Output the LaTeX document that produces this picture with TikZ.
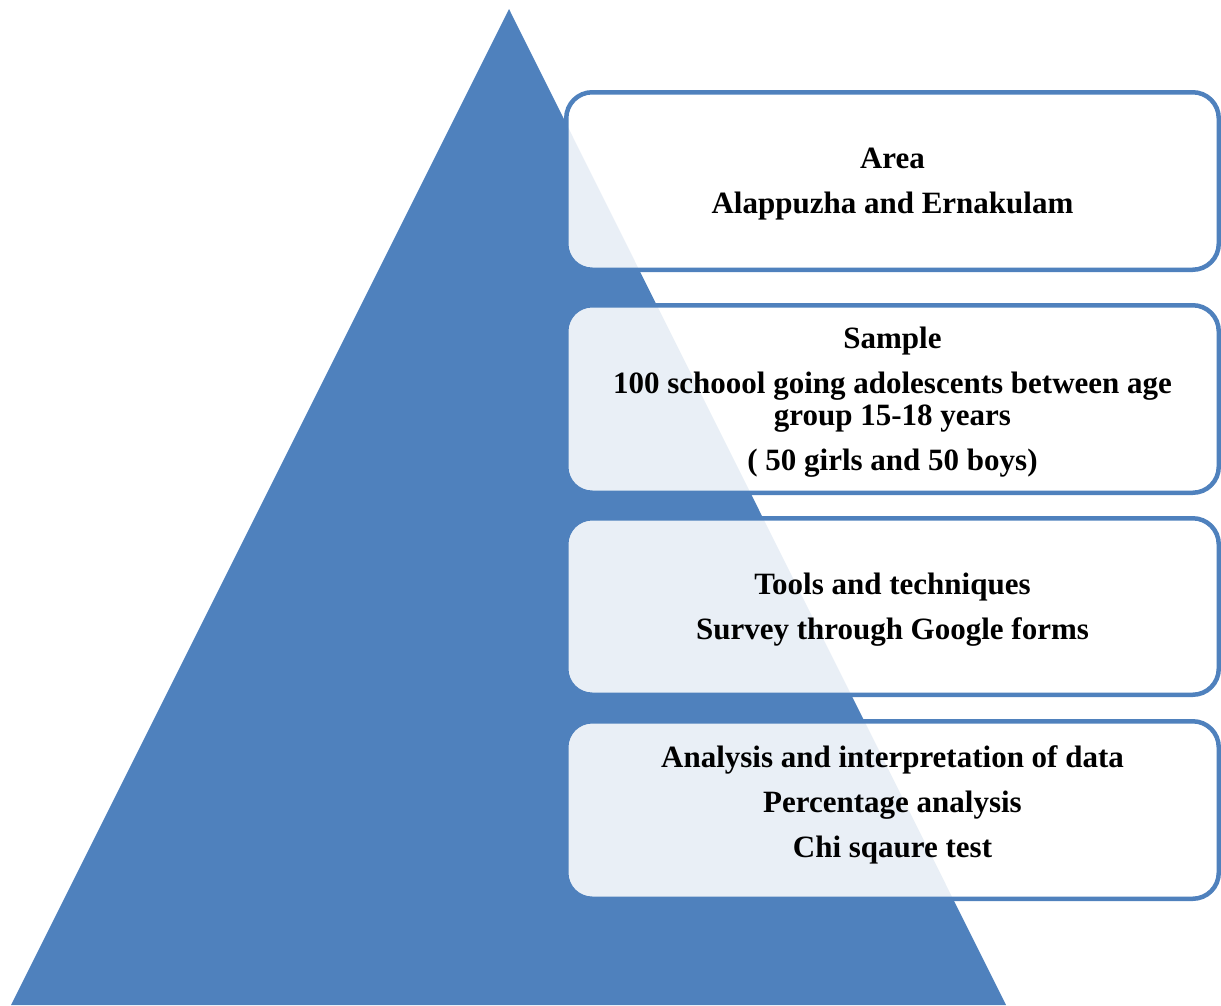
\documentclass[tikz,border=0pt]{standalone}
\usepackage{fontspec}
\setmainfont{Liberation Serif}
\definecolor{pyrblue}{RGB}{79,129,189}
\begin{document}
\begin{tikzpicture}[x=1pt,y=-1pt,
  stagebox/.style={draw=pyrblue, line width=4.5pt, rounded corners=26pt,
    fill=white, fill opacity=0.88, minimum width=652.5pt, inner sep=0pt},
  stagetext/.style={align=center, inner sep=0pt, text=black,
    font=\fontsize{31}{31.5}\selectfont\bfseries}]
\useasboundingbox (0,0) rectangle (1221,1005);
\fill[pyrblue] (509,9) -- (1006,1005) -- (11,1005) -- cycle;
\node[stagebox, minimum height=177.5pt] (b1) at (892.5,181) {};
\node[stagebox, minimum height=187.5pt] (b2) at (892.5,399) {};
\node[stagebox, minimum height=176.5pt] (b3) at (892.5,606.5) {};
\node[stagebox, minimum height=177.5pt] (b4) at (892.5,810) {};
\node[stagetext] (t1) at (892.5,184) {Area\\[13.5pt]Alappuzha and Ernakulam};
\node[stagetext] (t2) at (892.5,402) {Sample\\[13.5pt]100 schoool going adolescents between age\\group 15-18 years\\[13.5pt]( 50 girls and 50 boys)};
\node[stagetext] (t3) at (892.5,609.5) {Tools and techniques\\[13.5pt]Survey through Google forms};
\node[stagetext] (t4) at (892.5,805) {Analysis and interpretation of data\\[13.5pt]Percentage analysis\\[13.5pt]Chi sqaure test};
\end{tikzpicture}
\end{document}
